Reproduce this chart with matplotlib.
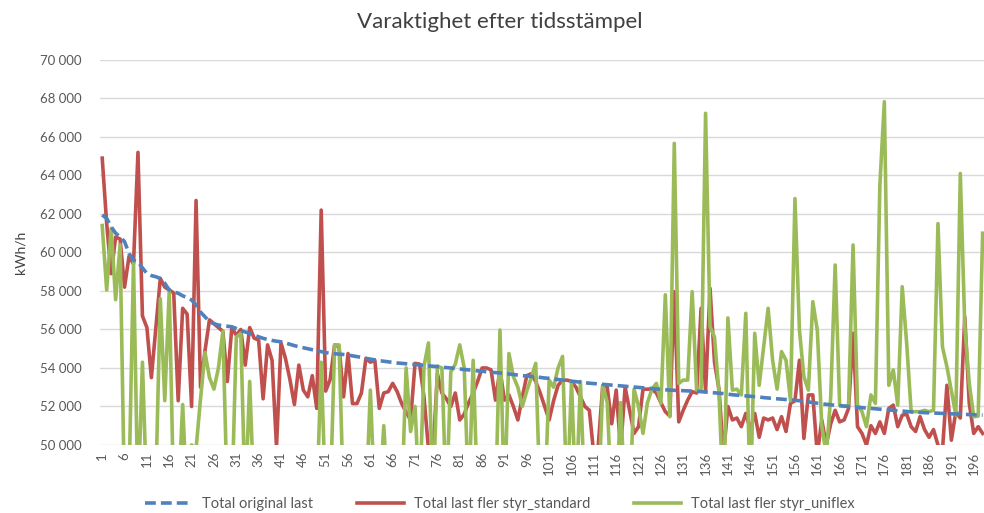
import matplotlib
matplotlib.use("Agg")
import matplotlib.pyplot as plt

plt.rcParams['font.family'] = ['Lato', 'DejaVu Sans']

# values, one per time stamp (1..198)
# points below the axis minimum (50 000) are just given a low value, they get clipped
original_last = [
    61950, 61770, 61340, 61000, 60820, 60560, 59950, 59600, 59520, 59200,
    58910, 58800, 58740, 58650, 58400, 58050, 57950, 57880, 57750, 57650,
    57530, 57270, 56900, 56660, 56400, 56300, 56230, 56200, 56170, 56140,
    56050, 55950, 55870, 55800, 55700, 55620, 55540, 55480, 55430, 55390,
    55360, 55300, 55230, 55160, 55100, 55050, 55000, 54950, 54900, 54850,
    54800, 54760, 54740, 54720, 54700, 54670, 54630, 54590, 54550, 54500,
    54460, 54420, 54380, 54350, 54320, 54290, 54260, 54240, 54220, 54200,
    54180, 54160, 54140, 54110, 54090, 54070, 54040, 54020, 54000, 53970,
    53950, 53920, 53900, 53880, 53850, 53830, 53800, 53780, 53760, 53740,
    53720, 53690, 53660, 53630, 53600, 53580, 53560, 53540, 53510, 53480,
    53460, 53430, 53400, 53370, 53340, 53310, 53290, 53260, 53230, 53210,
    53190, 53170, 53150, 53130, 53110, 53090, 53070, 53050, 53030, 53010,
    52990, 52970, 52950, 52930, 52910, 52890, 52870, 52850, 52840, 52830,
    52820, 52810, 52800, 52790, 52770, 52750, 52730, 52710, 52690, 52670,
    52640, 52610, 52590, 52570, 52550, 52530, 52510, 52490, 52460, 52440,
    52420, 52400, 52380, 52360, 52340, 52320, 52300, 52270, 52240, 52200,
    52170, 52140, 52110, 52090, 52060, 52040, 52020, 52000, 51980, 51960,
    51940, 51920, 51900, 51880, 51860, 51840, 51820, 51800, 51780, 51760,
    51740, 51720, 51700, 51690, 51680, 51670, 51660, 51650, 51640, 51630,
    51620, 51610, 51600, 51590, 51580, 51570, 51560, 51550,
]

styr_standard = [
    64900, 61500, 58900, 60800, 60700, 58200, 59800, 59400, 65200, 56700,
    56100, 53500, 56100, 58650, 58200, 58050, 57900, 52300, 57100, 56800,
    52000, 62700, 53000, 54900, 56500, 56300, 56100, 55900, 53300, 56100,
    55700, 56000, 54150, 56100, 55550, 55450, 52400, 55200, 54400, 49900,
    55300, 54500, 53400, 52100, 54150, 52850, 52500, 53600, 51900, 62200,
    52800, 53400, 55200, 55100, 52500, 54750, 52150, 52150, 52700, 54500,
    54300, 54400, 51900, 52700, 52770, 53200, 52770, 52160, 51700, 51300,
    54240, 54200, 52500, 49800, 49500, 53700, 52700, 52400, 52000, 52700,
    51300, 51600, 52200, 52700, 53300, 54000, 54000, 53900, 52330, 53900,
    52330, 52600, 52000, 51300, 52500, 53600, 53700, 53300, 52700, 52000,
    51300, 52300, 53100, 53370, 53370, 53300, 53000, 52500, 52000, 51800,
    49500, 50000, 53100, 53000, 51100, 52850, 49800, 53000, 51800, 50600,
    50950, 52900, 52900, 52900, 52700, 52200, 51730, 51500, 57960, 51200,
    51800, 52330, 52770, 52700, 57100, 52770, 58140, 54300, 52900, 49500,
    52000, 51300, 51400, 50950, 51640, 50800, 51640, 50400, 51400, 51300,
    51400, 50800, 51470, 50700, 52160, 52300, 54400, 50340, 52600, 52600,
    49500, 51300, 50000, 51100, 51800, 51200, 51300, 51900, 55800, 50950,
    50600, 50000, 51000, 50600, 51200, 50600, 51900, 52070, 50950, 51550,
    51600, 50950, 50700, 51470, 50800, 50400, 50800, 50000, 49700, 53100,
    50250, 51730, 51400, 56660, 52160, 50600, 50950, 50600,
]

styr_uniflex = [
    61400, 58050, 61250, 57550, 60400, 47000, 48000, 59500, 47000, 54300,
    47000, 47000, 48000, 57600, 52300, 58050, 47000, 47000, 52100, 47000,
    50000, 49800, 52400, 54800, 53500, 52900, 54000, 55900, 47000, 47000,
    55600, 55800, 47000, 53300, 47000, 47000, 47000, 47000, 47000, 47000,
    47000, 47000, 47000, 47000, 47000, 47000, 47000, 47000, 47000, 54300,
    47000, 47000, 55200, 55200, 47000, 47000, 47000, 47000, 47000, 47000,
    52850, 47000, 47000, 51000, 47000, 47000, 47000, 47000, 54000, 50700,
    52000, 47000, 54100, 55300, 47000, 54100, 54000, 47000, 53800, 54200,
    55200, 54000, 47000, 54400, 47000, 47000, 47000, 47000, 47000, 55970,
    47000, 54750, 53550, 53000, 52000, 52800, 53500, 54240, 47000, 47000,
    53370, 53000, 54000, 54600, 47000, 53300, 47000, 53300, 47000, 47000,
    47000, 47000, 53100, 52200, 47000, 47000, 52200, 47000, 47000, 52900,
    52000, 50600, 52200, 52900, 53200, 52160, 57800, 51470, 65670, 53200,
    53370, 53370, 57960, 52850, 52850, 67230, 56150, 55600, 52700, 47000,
    56600, 52850, 52900, 52600, 56840, 47000, 55800, 53100, 55100, 57100,
    54400, 52900, 54850, 54400, 52300, 62800, 55970, 53550, 52850, 57440,
    55970, 51000, 49500, 52500, 59350, 52070, 52000, 52070, 60390, 52070,
    51730, 50950, 52600, 52160, 63500, 67830, 53100, 53900, 52070, 58220,
    55270, 51730, 51730, 51730, 51800, 51730, 51800, 61500, 55100, 54070,
    52800, 51550, 64100, 56150, 53200, 51470, 51500, 61000,
]

x = list(range(1, len(original_last) + 1))
tick_pos = list(range(1, len(x) + 1, 5))
y_ticks = list(range(50000, 70001, 2000))

fig = plt.figure(figsize=(9.84, 5.13), dpi=100)
ax = fig.add_axes([0.1016, 0.1326, 0.8984, 0.7505])

ax.plot(x, original_last, color='#4F81BD', lw=2.6, ls=(0, (3, 1.4)),
        label='Total original last', zorder=4)
ax.plot(x, styr_standard, color='#C0504D', lw=2.6,
        label='Total last fler styr_standard', zorder=2)
ax.plot(x, styr_uniflex, color='#9BBB59', lw=2.6,
        label='Total last fler styr_uniflex', zorder=3)

ax.set_xlim(0.5, 198.3)
ax.set_ylim(50000, 70000)
ax.set_yticks(y_ticks)
ax.set_yticklabels([f'{v // 1000} 000' for v in y_ticks])
ax.set_xticks(tick_pos)
ax.set_xticklabels([str(t) for t in tick_pos], rotation=90)
ax.tick_params(axis='both', length=0, labelsize=9.5, colors='#595959')
ax.tick_params(axis='y', pad=13)
ax.tick_params(axis='x', pad=5)

ax.grid(axis='y', color='#D9D9D9', lw=1)
ax.set_axisbelow(True)
for s in ax.spines.values():
    s.set_visible(False)

ax.set_ylabel('kWh/h', fontsize=10, color='#404040', labelpad=10)
fig.text(0.508, 0.957, 'Varaktighet efter tidsstämpel', ha='center', va='center',
         fontsize=16, color='#404040')

fig.legend(loc='center', bbox_to_anchor=(0.508, 0.018), ncol=3, frameon=False,
           fontsize=10.5, handlelength=3.2, handletextpad=0.7, columnspacing=3.0,
           labelcolor='#595959')

fig.savefig('out.png', dpi=100)
